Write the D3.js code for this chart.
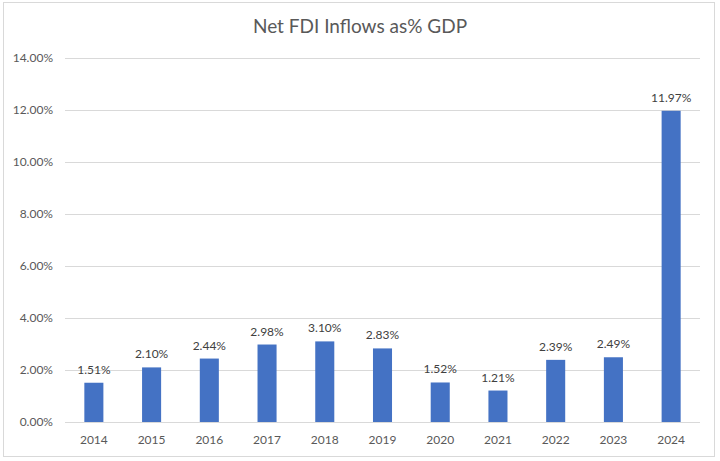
<!DOCTYPE html>
<html>
<head>
<meta charset="utf-8">
<script src="https://cdn.jsdelivr.net/npm/d3@7"></script>
<style>
  body { margin: 0; background: #fff; }
  text { font-family: Lato, "Open Sans", sans-serif; fill: #595959; }
</style>
</head>
<body>
<div id="chart"></div>
<script>
const width = 720;
const height = 461;

// data
const years = ["2014", "2015", "2016", "2017", "2018", "2019", "2020", "2021", "2022", "2023", "2024"];
const fdiShare = [1.51, 2.10, 2.44, 2.98, 3.10, 2.83, 1.52, 1.21, 2.39, 2.49, 11.97];
const yTicks = [0, 2, 4, 6, 8, 10, 12, 14];

const margin = { top: 58, right: 20, bottom: 39, left: 65 };

const svg = d3.select("#chart")
    .append("svg")
    .attr("width", width)
    .attr("height", height);

// outer chart frame
svg.append("rect")
    .attr("x", 3.5)
    .attr("y", 2.5)
    .attr("width", 711)
    .attr("height", 454)
    .attr("fill", "#fff")
    .attr("stroke", "#d9d9d9");

const x = d3.scaleBand()
    .domain(years)
    .range([margin.left, width - margin.right])
    .paddingInner(0.67)
    .paddingOuter(0.335);

const y = d3.scaleLinear()
    .domain([0, 14])
    .range([height - margin.bottom, margin.top]);

// gridlines
svg.append("g")
    .selectAll("line")
    .data(yTicks)
    .enter()
    .append("line")
    .attr("x1", margin.left)
    .attr("x2", width - margin.right)
    .attr("y1", d => y(d) + 0.5)
    .attr("y2", d => y(d) + 0.5)
    .attr("stroke", "#d9d9d9")
    .attr("stroke-width", 1);

// y tick labels
svg.append("g")
    .selectAll("text")
    .data(yTicks)
    .enter()
    .append("text")
    .attr("x", 53)
    .attr("y", d => y(d))
    .attr("dy", "0.35em")
    .attr("text-anchor", "end")
    .attr("font-size", 12)
    .text(d => d.toFixed(2) + "%");

// bars
svg.append("g")
    .selectAll("rect")
    .data(fdiShare)
    .enter()
    .append("rect")
    .attr("x", (d, i) => x(years[i]))
    .attr("y", d => y(d))
    .attr("width", x.bandwidth())
    .attr("height", d => y(0) - y(d))
    .attr("fill", "#4472c4");

// value labels
svg.append("g")
    .selectAll("text")
    .data(fdiShare)
    .enter()
    .append("text")
    .attr("x", (d, i) => x(years[i]) + x.bandwidth() / 2)
    .attr("y", d => y(d) - 9)
    .attr("text-anchor", "middle")
    .attr("font-size", 12)
    .style("fill", "#404040")
    .text(d => d.toFixed(2) + "%");

// x labels
svg.append("g")
    .selectAll("text")
    .data(years)
    .enter()
    .append("text")
    .attr("x", d => x(d) + x.bandwidth() / 2)
    .attr("y", y(0) + 22)
    .attr("text-anchor", "middle")
    .attr("font-size", 12)
    .text(d => d);

// title
svg.append("text")
    .attr("x", 360)
    .attr("y", 33)
    .attr("text-anchor", "middle")
    .attr("font-size", 19)
    .text("Net FDI Inflows as% GDP");
</script>
</body>
</html>
